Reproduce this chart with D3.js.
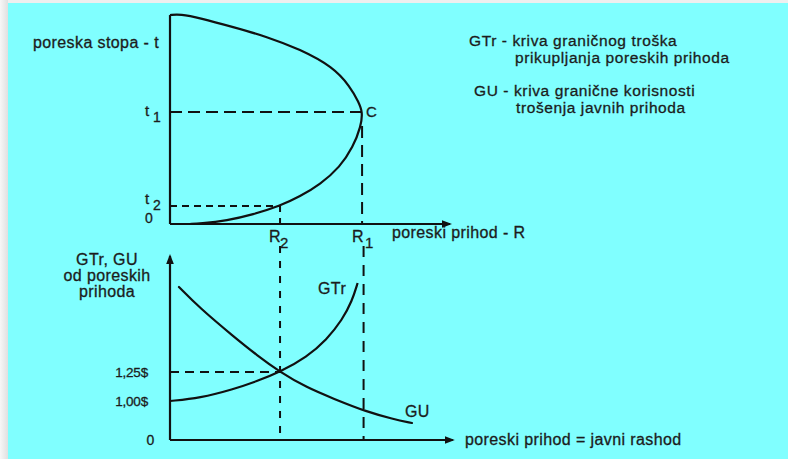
<!DOCTYPE html>
<html>
<head>
<meta charset="utf-8">
<script src="https://cdn.jsdelivr.net/npm/d3@7"></script>
<style>
  body { margin: 0; background: #efefef; }
  svg { display: block; }
  text { font-family: "Liberation Sans", Arial, sans-serif; fill: #1c1c1c; stroke: #1c1c1c; stroke-width: 0.3px; letter-spacing: 0.4px; }
</style>
</head>
<body>
<svg id="chart" width="788" height="459"></svg>
<script>
// gornji grafikon: Laferova kriva (poreski prihod R, poreska stopa t)
const lafferR = [0, 0.36, 1.07, 2.25, 3.46, 4.64, 5.82, 6.43, 6.74, 6.88, 6.82, 6.54, 6.07, 5.36, 4.64, 3.93, 2.96, 2.04, 1.07, 0.71];
const lafferT = [0.995, 1.0, 0.981, 0.938, 0.892, 0.832, 0.748, 0.655, 0.58, 0.533, 0.465, 0.367, 0.271, 0.188, 0.131, 0.086, 0.045, 0.016, 0.002, 0];

// donji grafikon: GTr i GU
const gtrR = [0, 1.07, 2.25, 3.1, 3.93, 4.89, 5.6, 6.15, 6.5, 6.7];
const gtrV = [1.0, 1.026, 1.1, 1.17, 1.25, 1.38, 1.53, 1.7, 1.86, 2.017];
const guR = [0.32, 1.07, 2.25, 3.1, 3.93, 4.89, 5.82, 7.04, 7.96, 8.64];
const guV = [1.983, 1.8, 1.56, 1.395, 1.25, 1.115, 1.022, 0.718, 0.54, 0.436];

// karakteristicne tacke
const R1 = 6.86, R2 = 3.93;
const t1 = 0.533, t2 = 0.086;
const costLabels = ["1,25$", "1,00$", "0"];
const costValues = [1.25, 1.0, 0];

const legendLines = [
  "GTr - kriva graničnog troška",
  "prikupljanja poreskih prihoda",
  "GU - kriva granične korisnosti",
  "trošenja javnih prihoda"
];

const W = 788, H = 459;
const svg = d3.select("#chart");

const x = d3.scaleLinear().domain([0, 10]).range([170, 450]);
const yT = d3.scaleLinear().domain([0, 1]).range([224, 14]);
// donja osa nije u razmeri: razmak 0 - 1,00$ je sabijen
const yB = d3.scaleLinear().domain([0, 1, 2.25]).range([440, 401, 256]);

// pozadina
const defs = svg.append("defs");
const grad = defs.append("linearGradient").attr("id", "edge").attr("x1", 0).attr("x2", 1);
grad.append("stop").attr("offset", 0).attr("stop-color", "#f7f7f7");
grad.append("stop").attr("offset", 1).attr("stop-color", "#e0e0e0");
svg.append("rect").attr("width", W).attr("height", H).attr("fill", "#efefef");
svg.append("rect").attr("width", 8).attr("height", H).attr("fill", "url(#edge)");
svg.append("rect").attr("x", 8).attr("y", 3).attr("width", W - 8).attr("height", H - 3).attr("fill", "#80ffff");

defs.append("marker")
  .attr("id", "arrow")
  .attr("viewBox", "0 -4 10 8")
  .attr("refX", 8).attr("refY", 0)
  .attr("markerWidth", 10).attr("markerHeight", 8)
  .attr("markerUnits", "userSpaceOnUse")
  .attr("orient", "auto")
  .append("path")
  .attr("d", "M0,-3.8L10,0L0,3.8Z")
  .attr("fill", "#111");

const ink = "#111";

function axisLine(x1, y1, x2, y2, arrow) {
  const l = svg.append("line")
    .attr("x1", x1).attr("y1", y1).attr("x2", x2).attr("y2", y2)
    .attr("stroke", ink).attr("stroke-width", 2.2);
  if (arrow) l.attr("marker-end", "url(#arrow)");
}

function dashed(x1, y1, x2, y2, dash) {
  svg.append("line")
    .attr("x1", x1).attr("y1", y1).attr("x2", x2).attr("y2", y2)
    .attr("stroke", ink).attr("stroke-width", 2)
    .attr("stroke-dasharray", dash);
}

function label(px, py, txt, size, anchor) {
  return svg.append("text")
    .attr("x", px).attr("y", py)
    .attr("font-size", size)
    .attr("text-anchor", anchor || "start")
    .text(txt);
}

// ose gornjeg grafikona
axisLine(x(0), yT(0), x(0), yT(0.995), false);
axisLine(x(0), yT(0), x(10), yT(0), true);

// ose donjeg grafikona
axisLine(x(0), yB(0), x(0), yB(2.25), true);
axisLine(x(0), yB(0), x(10.1), yB(0), true);

// isprekidane linije
dashed(x(0), yT(t1), x(R1), yT(t1), "12,6");
dashed(x(0), yT(t2), x(R2), yT(t2), "7,5");
dashed(x(R2), yT(t2), x(R2), yT(0), "6,6");
dashed(x(R2), yT(0) + 22, x(R2), yB(0), "7,8");
dashed(x(R1), yT(t1) + 14, x(R1), yT(0), "12,7");
dashed(x(R1) + 1.5, yT(0) + 22, x(R1) + 1.5, yB(0), "11,8");
dashed(x(0), yB(1.25), x(R2), yB(1.25), "9,6");

// krive
const lineTop = d3.line()
  .x(d => x(d[0])).y(d => yT(d[1]))
  .curve(d3.curveBasis);
const lineBottom = d3.line()
  .x(d => x(d[0])).y(d => yB(d[1]))
  .curve(d3.curveBasis);

svg.append("path")
  .attr("d", lineTop(d3.zip(lafferR, lafferT)))
  .attr("fill", "none").attr("stroke", ink).attr("stroke-width", 2.2);

svg.append("path")
  .attr("d", lineBottom(d3.zip(gtrR, gtrV)))
  .attr("fill", "none").attr("stroke", ink).attr("stroke-width", 2.2);

svg.append("path")
  .attr("d", lineBottom(d3.zip(guR, guV)))
  .attr("fill", "none").attr("stroke", ink).attr("stroke-width", 2.2)
  .attr("stroke-linecap", "round");

// oznake gornjeg grafikona
label(33, 48, "poreska stopa - t", 16);
label(145, yT(t1) + 4, "t", 15);
label(153, yT(t1) + 10, "1", 14);
label(145, yT(t2) - 2, "t", 15);
label(153, yT(t2) + 4, "2", 14);
label(145, yT(0) - 1, "0", 14);
label(x(R1) + 4, yT(t1) + 5, "C", 15);
label(x(R2) - 11, yT(0) + 18, "R", 16);
label(x(R2), yT(0) + 24, "2", 15);
label(x(R1) - 10, yT(0) + 18, "R", 16);
label(x(R1) + 3, yT(0) + 24, "1", 15);
label(392, 238, "poreski prihod - R", 16);

// legenda
const legendX = [469, 515, 474, 516];
const legendY = [46, 63, 96, 113];
legendLines.forEach((s, i) => label(legendX[i], legendY[i], s, 15.5).style("letter-spacing", "0.6px"));

// oznake donjeg grafikona
label(107, 265, "GTr, GU", 16, "middle");
label(107, 281, "od poreskih", 16, "middle");
label(107, 297, "prihoda", 16, "middle");

costLabels.forEach((s, i) => {
  const last = i === costLabels.length - 1;
  label(last ? x(0) - 16 : x(0) - 22, yB(costValues[i]) + 5, s, last ? 14 : 13.5, "end")
    .style("letter-spacing", "-0.2px");
});

label(318, 294, "GTr", 16);
label(405, 417, "GU", 16);
label(465, 445, "poreski prihod = javni rashod", 16);
</script>
</body>
</html>
